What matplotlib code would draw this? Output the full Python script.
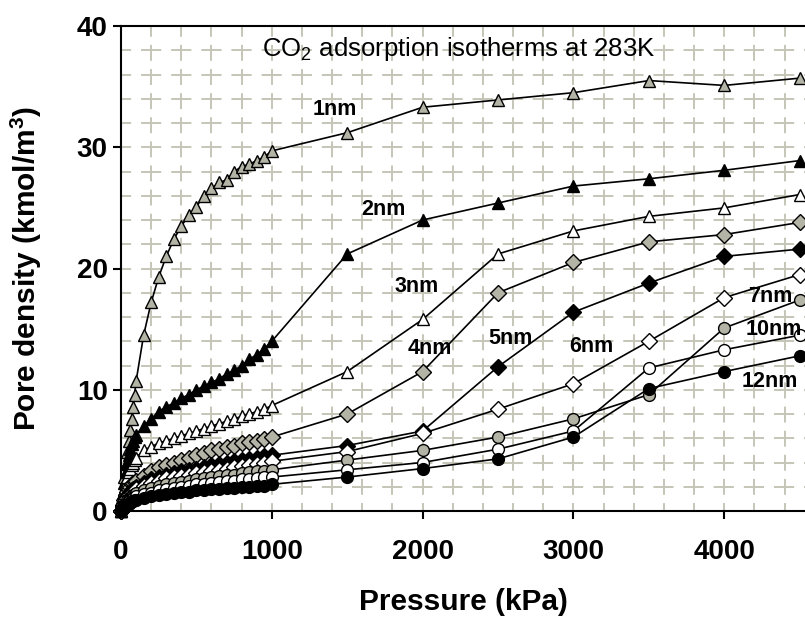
import numpy as np
import matplotlib
matplotlib.use('Agg')
import matplotlib.pyplot as plt
from matplotlib.ticker import MultipleLocator

plt.rcParams['font.family'] = ['Liberation Sans', 'DejaVu Sans']
plt.rcParams['mathtext.fontset'] = 'custom'
plt.rcParams['mathtext.rm'] = 'Liberation Sans'
plt.rcParams['mathtext.bf'] = 'Liberation Sans:bold'

# pressure steps (kPa)
pressure = [0, 10, 20, 30, 40, 50, 60, 70, 80, 90, 100,
            150, 200, 250, 300, 350, 400, 450, 500, 550, 600,
            650, 700, 750, 800, 850, 900, 950, 1000,
            1500, 2000, 2500, 3000, 3500, 4000, 4500]

# pore density (kmol/m3) for each pore width
d1nm = [0, 1.5, 2.8, 3.9, 4.9, 5.8, 6.7, 7.6, 8.6, 9.6, 10.7,
        14.5, 17.2, 19.3, 21.0, 22.4, 23.5, 24.4, 25.1, 26.0, 26.6,
        27.1, 27.3, 28.0, 28.4, 28.6, 28.9, 29.2, 29.7,
        31.2, 33.3, 33.9, 34.5, 35.5, 35.1, 35.7]
d2nm = [0, 1.2, 2.3, 3.2, 4.0, 4.6, 5.1, 5.5, 5.8, 6.1, 6.3,
        7.0, 7.6, 8.2, 8.6, 8.9, 9.3, 9.6, 10.0, 10.3, 10.6,
        10.9, 11.3, 11.6, 12.0, 12.5, 12.9, 13.4, 14.0,
        21.2, 24.0, 25.4, 26.8, 27.4, 28.1, 28.9]
d3nm = [0, 0.9, 1.7, 2.3, 2.8, 3.2, 3.5, 3.8, 4.0, 4.2, 4.4,
        5.0, 5.3, 5.6, 5.8, 6.0, 6.2, 6.4, 6.6, 6.8, 7.0,
        7.2, 7.4, 7.6, 7.8, 8.0, 8.2, 8.4, 8.7,
        11.5, 15.8, 21.2, 23.1, 24.3, 25.0, 26.1]
d4nm = [0, 0.5, 0.9, 1.3, 1.6, 1.8, 2.0, 2.2, 2.3, 2.4, 2.5,
        2.9, 3.3, 3.6, 3.8, 4.0, 4.2, 4.4, 4.6, 4.8, 5.0,
        5.1, 5.3, 5.4, 5.6, 5.7, 5.8, 5.9, 6.1,
        8.0, 11.5, 18.0, 20.5, 22.2, 22.8, 23.8]
d5nm = [0, 0.4, 0.7, 1.0, 1.2, 1.4, 1.6, 1.7, 1.8, 1.9, 2.0,
        2.3, 2.6, 2.8, 3.0, 3.1, 3.3, 3.4, 3.5, 3.6, 3.8,
        3.9, 4.0, 4.1, 4.2, 4.3, 4.4, 4.5, 4.6,
        5.4, 6.6, 11.9, 16.4, 18.8, 21.0, 21.6]
d6nm = [0, 0.3, 0.6, 0.9, 1.1, 1.3, 1.4, 1.5, 1.6, 1.7, 1.8,
        2.1, 2.3, 2.5, 2.7, 2.8, 2.9, 3.0, 3.1, 3.2, 3.3,
        3.4, 3.5, 3.6, 3.7, 3.8, 3.9, 4.0, 4.1,
        4.9, 6.4, 8.4, 10.5, 14.0, 17.6, 19.5]
d7nm = [0, 0.3, 0.5, 0.7, 0.9, 1.0, 1.1, 1.2, 1.3, 1.4, 1.5,
        1.7, 1.9, 2.1, 2.2, 2.3, 2.4, 2.5, 2.6, 2.7, 2.8,
        2.9, 3.0, 3.0, 3.1, 3.2, 3.3, 3.3, 3.4,
        4.2, 5.0, 6.1, 7.6, 9.6, 15.1, 17.4]
d10nm = [0, 0.2, 0.4, 0.6, 0.7, 0.8, 0.9, 1.0, 1.1, 1.1, 1.2,
         1.4, 1.5, 1.7, 1.8, 1.9, 2.0, 2.1, 2.2, 2.2, 2.3,
         2.4, 2.5, 2.5, 2.6, 2.6, 2.7, 2.8, 2.8,
         3.4, 4.0, 5.1, 6.6, 11.8, 13.3, 14.5]
d12nm = [0, 0.2, 0.3, 0.4, 0.5, 0.6, 0.7, 0.8, 0.8, 0.9, 0.9,
         1.1, 1.2, 1.3, 1.4, 1.5, 1.6, 1.6, 1.7, 1.7, 1.8,
         1.8, 1.9, 1.9, 2.0, 2.0, 2.1, 2.1, 2.2,
         2.8, 3.5, 4.3, 6.1, 10.1, 11.5, 12.8]

labels = ['1nm', '2nm', '3nm', '4nm', '5nm', '6nm', '7nm', '10nm', '12nm']
label_x = [1419, 1737, 1963, 2049, 2580, 3117, 4304, 4330, 4304]
label_y = [33.1, 24.9, 18.5, 13.4, 14.2, 13.6, 17.7, 15.0, 10.7]

gray = '#b4b4a6'
styles = [('^', gray, 9), ('^', 'black', 9), ('^', 'white', 9),
          ('D', gray, 8), ('D', 'black', 8), ('D', 'white', 8),
          ('o', gray, 8.5), ('o', 'white', 8.5), ('o', 'black', 8.5)]
series = [d1nm, d2nm, d3nm, d4nm, d5nm, d6nm, d7nm, d10nm, d12nm]

fig = plt.figure(figsize=(8.05, 6.18), dpi=100)
ax = fig.add_axes([121/805, 107/618, 684/805, 485/618])

for d, (m, fc, ms) in zip(series, styles):
    ax.plot(pressure, d, '-', color='black', lw=1.2, marker=m, ms=ms,
            mfc=fc, mec='black', mew=1.0, clip_on=False, zorder=3)

for t, x, y in zip(labels, label_x, label_y):
    ax.text(x, y, t, fontsize=15.5, fontweight='bold', ha='center', va='center', zorder=4)

ax.text(935, 38.1, 'CO$_2$ adsorption isotherms at 283K', fontsize=18.5,
        ha='left', va='center', zorder=4)

ax.set_xlim(0, 4535)
ax.set_ylim(0, 40)
ax.xaxis.set_major_locator(MultipleLocator(1000))
ax.xaxis.set_minor_locator(MultipleLocator(200))
ax.yaxis.set_major_locator(MultipleLocator(10))
ax.yaxis.set_minor_locator(MultipleLocator(2))

# dashed grid, dashes centred on the crossings
gc = '#c6c6b8'
ax.xaxis.grid(True, which='both', color=gc, lw=1.4, ls=(4.1, (8.2, 4.2)), zorder=0)
ax.yaxis.grid(True, which='both', color=gc, lw=1.4, ls=(5.2, (10.4, 5.1)), zorder=0)
ax.set_axisbelow(True)

ax.spines['right'].set_visible(False)
for s in ['left', 'bottom', 'top']:
    ax.spines[s].set_linewidth(1.5)
ax.tick_params(which='major', direction='out', length=5.5, width=1.5,
               labelsize=20, pad=4)
ax.tick_params(axis='x', which='major', pad=15)
ax.tick_params(which='minor', length=0)
for lab in ax.get_xticklabels() + ax.get_yticklabels():
    lab.set_fontweight('bold')

ax.set_xlabel('Pressure (kPa)', fontsize=21.5, fontweight='bold', labelpad=16)
ax.set_ylabel('Pore density (kmol/m$^\\mathbf{3}$)', fontsize=21.5, fontweight='bold')
ax.yaxis.set_label_coords(-0.112, 0.5)

fig.savefig('out.png', dpi=100)
